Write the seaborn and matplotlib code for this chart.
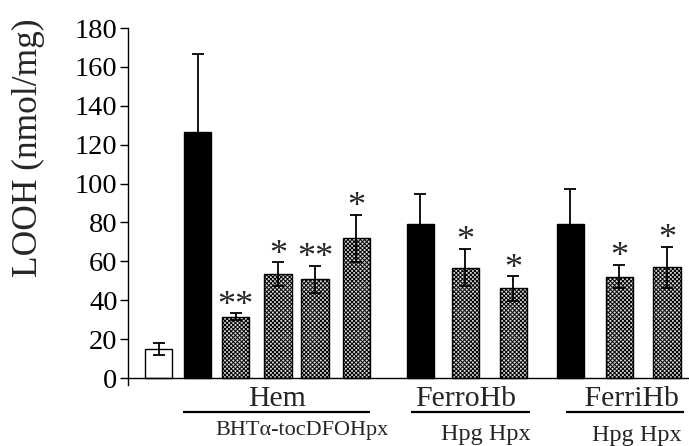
import numpy as np
import pandas as pd
import seaborn as sns
import matplotlib
matplotlib.use("Agg")
import matplotlib.pyplot as plt
from matplotlib import transforms

# ---------------- data ----------------
conditions = ["Control", "Hem", "Hem+BHT", "Hem+α-toc", "Hem+DFO", "Hem+Hpx",
              "FerroHb", "FerroHb+Hpg", "FerroHb+Hpx",
              "FerriHb", "FerriHb+Hpg", "FerriHb+Hpx"]
looh_mean = [15.0, 126.5, 31.5, 53.3, 50.8, 71.8, 79.0, 56.7, 46.1, 79.0, 52.1, 56.9]
looh_sd = [3.2, 40.0, 1.8, 6.2, 7.0, 12.0, 15.7, 9.6, 6.3, 18.4, 6.0, 10.6]
significance = ["", "", "**", "*", "**", "*", "", "*", "*", "", "*", "*"]
bar_kind = ["control", "oxidant", "treated", "treated", "treated", "treated",
            "oxidant", "treated", "treated", "oxidant", "treated", "treated"]
group_names = ["Hem", "FerroHb", " FerriHb"]
group_subs = ["BHTα-tocDFOHpx", "Hpg Hpx", "Hpg Hpx"]
yticks = [0, 20, 40, 60, 80, 100, 120, 140, 160, 180]
ylabel = "LOOH (nmol/mg)"

# ---------------- layout ----------------
bar_x = [158.5, 197.5, 235.5, 278, 315, 356.5, 420.5, 465.5, 513.5, 570.5, 619.5, 667]
group_label_x = [277.5, 466, 628]
group_sub_x = [302.5, 486, 637]
group_sub_py = [435, 440, 441]
group_line_span = [(183, 370), (411, 530), (566, 684)]
W, H = 689, 446
ax_left, ax_right, ax_top, ax_bottom = 128, 689, 28, 385

def ay(py):
    """pixel row -> axes fraction"""
    return (ax_bottom - py) / (ax_bottom - ax_top)

df = pd.DataFrame({"pos": bar_x, "looh": looh_mean, "cond": conditions})

sns.set_style("white")
plt.rcParams["font.family"] = ["Liberation Serif", "DejaVu Serif"]
plt.rcParams["hatch.linewidth"] = 0.7

fig = plt.figure(figsize=(W / 100, H / 100), dpi=100)
ax = fig.add_axes([ax_left / W, 1 - ax_bottom / H, (ax_right - ax_left) / W,
                   (ax_bottom - ax_top) / H])

min_gap = np.min(np.diff(sorted(bar_x)))
sns.barplot(data=df, x="pos", y="looh", native_scale=True, errorbar=None,
            width=27.5 / min_gap, color="white", edgecolor="black",
            linewidth=1.0, ax=ax, zorder=2)

styles = {"control": dict(facecolor="white", hatch=None),
          "oxidant": dict(facecolor="black", hatch=None),
          "treated": dict(facecolor="#d8d8d8", hatch="xxxxxxxx")}
for patch, kind in zip(ax.patches, bar_kind):
    patch.set_facecolor(styles[kind]["facecolor"])
    patch.set_hatch(styles[kind]["hatch"])
    patch.set_edgecolor("black")

ax.errorbar(bar_x, looh_mean, yerr=looh_sd, fmt="none", ecolor="black",
            elinewidth=1.3, capsize=4, capthick=1.3, zorder=3)

star_off = transforms.offset_copy(ax.transData, fig=fig, x=0, y=-1, units="points")
for x, m, s, sig in zip(bar_x, looh_mean, looh_sd, significance):
    if sig:
        ax.text(x, m + s, sig, ha="center", va="baseline", fontsize=26,
                transform=star_off)

ax.set_xlim(ax_left, ax_right)
ax.set_ylim(-3.6, 180)
ax.set_yticks(yticks)
ax.set_yticklabels([str(v) for v in yticks], fontsize=20.5)
ax.set_xticks([])
ax.set_xlabel("")
ax.set_ylabel("")
ax.tick_params(axis="y", which="both", left=True, direction="out", length=6,
               width=1, pad=1.5, colors="black")
for side in ["top", "right", "bottom"]:
    ax.spines[side].set_visible(False)
ax.spines["left"].set_color("black")
ax.spines["left"].set_linewidth(1)
ax.axhline(0, color="black", lw=1, zorder=4)

blend = transforms.blended_transform_factory(ax.transData, ax.transAxes)
for name, sub, lx, sx, (l0, l1), sub_py in zip(group_names, group_subs, group_label_x,
                                               group_sub_x, group_line_span,
                                               group_sub_py):
    ax.text(lx, ay(406), name, ha="center", va="baseline", fontsize=21.5,
            transform=blend, clip_on=False)
    ax.plot([l0, l1], [ay(412), ay(412)], color="black", lw=1.6,
            transform=blend, clip_on=False, solid_capstyle="butt")
    ax.text(sx, ay(sub_py), sub, ha="center", va="baseline",
            fontsize=16 if len(sub) > 8 else 17.5, transform=blend, clip_on=False)

fig.text(28 / W, 1 - 148 / H, ylabel, rotation=90, ha="center", va="center",
         fontsize=25.5)

fig.savefig("out.png", dpi=100)
